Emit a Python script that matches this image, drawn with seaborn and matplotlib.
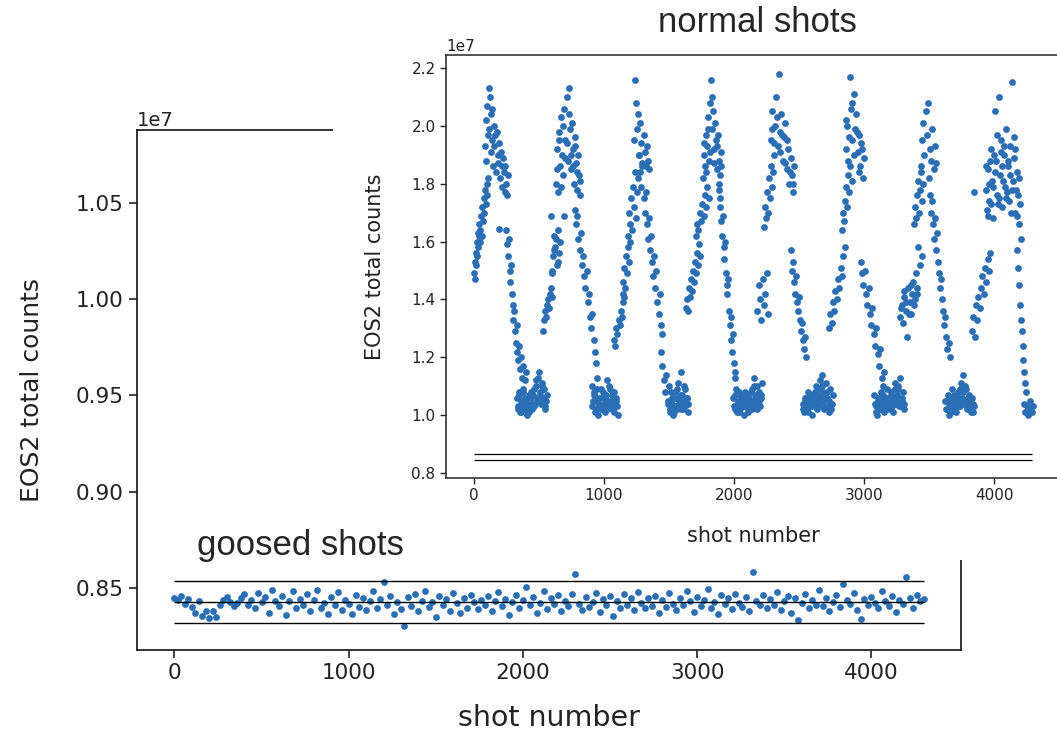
import numpy as np
import pandas as pd
import matplotlib
matplotlib.use("Agg")
import matplotlib.pyplot as plt
from matplotlib.patches import Rectangle
import seaborn as sns

# ---------------- data (counts in units of 1e7) ----------------
goosed_shots = [
    0, 20, 40, 60, 80, 100, 120, 140, 160, 180,
    200, 220, 240, 260, 280, 300, 320, 340, 360, 380,
    400, 420, 440, 460, 480, 500, 520, 540, 560, 580,
    600, 620, 640, 660, 680, 700, 720, 740, 760, 780,
    800, 820, 840, 860, 880, 900, 920, 940, 960, 980,
    1000, 1020, 1040, 1060, 1080, 1100, 1120, 1140, 1160, 1180,
    1200, 1220, 1240, 1260, 1280, 1300, 1320, 1340, 1360, 1380,
    1400, 1420, 1440, 1460, 1480, 1500, 1520, 1540, 1560, 1580,
    1600, 1620, 1640, 1660, 1680, 1700, 1720, 1740, 1760, 1780,
    1800, 1820, 1840, 1860, 1880, 1900, 1920, 1940, 1960, 1980,
    2000, 2020, 2040, 2060, 2080, 2100, 2120, 2140, 2160, 2180,
    2200, 2220, 2240, 2260, 2280, 2300, 2320, 2340, 2360, 2380,
    2400, 2420, 2440, 2460, 2480, 2500, 2520, 2540, 2560, 2580,
    2600, 2620, 2640, 2660, 2680, 2700, 2720, 2740, 2760, 2780,
    2800, 2820, 2840, 2860, 2880, 2900, 2920, 2940, 2960, 2980,
    3000, 3020, 3040, 3060, 3080, 3100, 3120, 3140, 3160, 3180,
    3200, 3220, 3240, 3260, 3280, 3300, 3320, 3340, 3360, 3380,
    3400, 3420, 3440, 3460, 3480, 3500, 3520, 3540, 3560, 3580,
    3600, 3620, 3640, 3660, 3680, 3700, 3720, 3740, 3760, 3780,
    3800, 3820, 3840, 3860, 3880, 3900, 3920, 3940, 3960, 3980,
    4000, 4020, 4040, 4060, 4080, 4100, 4120, 4140, 4160, 4180,
    4200, 4220, 4240, 4260, 4280, 4300]
goosed_counts = [
    0.8450, 0.8436, 0.8458, 0.8418, 0.8445, 0.8400, 0.8372, 0.8432, 0.8355, 0.8380,
    0.8345, 0.8378, 0.8352, 0.8412, 0.8436, 0.8455, 0.8428, 0.8404, 0.8420, 0.8447,
    0.8468, 0.8410, 0.8438, 0.8394, 0.8476, 0.8426, 0.8452, 0.8372, 0.8488, 0.8434,
    0.8404, 0.8456, 0.8358, 0.8430, 0.8482, 0.8394, 0.8444, 0.8414, 0.8468, 0.8378,
    0.8436, 0.8492, 0.8398, 0.8424, 0.8364, 0.8454, 0.8410, 0.8478, 0.8388, 0.8440,
    0.8416, 0.8366, 0.8464, 0.8402, 0.8448, 0.8384, 0.8430, 0.8486, 0.8396, 0.8442,
    0.8530, 0.8410, 0.8458, 0.8364, 0.8426, 0.8390, 0.8305, 0.8452, 0.8404, 0.8470,
    0.8378, 0.8434, 0.8486, 0.8400, 0.8428, 0.8352, 0.8456, 0.8412, 0.8444, 0.8382,
    0.8474, 0.8420, 0.8370, 0.8448, 0.8398, 0.8462, 0.8426, 0.8390, 0.8438, 0.8410,
    0.8456, 0.8380, 0.8432, 0.8478, 0.8406, 0.8444, 0.8362, 0.8428, 0.8466, 0.8396,
    0.8440, 0.8507, 0.8412, 0.8454, 0.8370, 0.8424, 0.8482, 0.8392, 0.8446, 0.8416,
    0.8464, 0.8380, 0.8434, 0.8406, 0.8470, 0.8572, 0.8418, 0.8388, 0.8452, 0.8400,
    0.8428, 0.8476, 0.8374, 0.8442, 0.8410, 0.8460, 0.8356, 0.8432, 0.8396, 0.8468,
    0.8414, 0.8446, 0.8384, 0.8478, 0.8422, 0.8394, 0.8450, 0.8406, 0.8460, 0.8372,
    0.8436, 0.8402, 0.8472, 0.8418, 0.8386, 0.8448, 0.8412, 0.8484, 0.8430, 0.8376,
    0.8454, 0.8408, 0.8440, 0.8494, 0.8398, 0.8426, 0.8364, 0.8462, 0.8416, 0.8446,
    0.8390, 0.8470, 0.8424, 0.8402, 0.8452, 0.8380, 0.8582, 0.8434, 0.8410, 0.8466,
    0.8396, 0.8442, 0.8414, 0.8480, 0.8384, 0.8432, 0.8456, 0.8368, 0.8446, 0.8332,
    0.8422, 0.8468, 0.8394, 0.8440, 0.8412, 0.8490, 0.8404, 0.8450, 0.8378, 0.8428,
    0.8462, 0.8400, 0.8520, 0.8436, 0.8418, 0.8472, 0.8386, 0.8340, 0.8444, 0.8410,
    0.8454, 0.8424, 0.8396, 0.8482, 0.8432, 0.8406, 0.8460, 0.8374, 0.8438, 0.8416,
    0.8557, 0.8448, 0.8398, 0.8466, 0.8430, 0.8444]
assert len(goosed_shots) == len(goosed_counts), (len(goosed_shots), len(goosed_counts))
goosed_lines = [0.8536, 0.8426, 0.8317]
normal_lines = [0.866, 0.846]

# normal shots, cluster by cluster
shots_01 = [2, 6, 10, 14, 18, 22, 26, 30, 34, 38, 42, 46, 50, 55, 60, 65, 70, 75, 80, 86, 92, 98, 104, 110]
counts_01 = [1.49, 1.53, 1.47, 1.56, 1.52, 1.60, 1.55, 1.63, 1.58, 1.62, 1.66, 1.60, 1.64, 1.69, 1.62, 1.72, 1.67, 1.75, 1.70, 1.78, 1.73, 1.80, 1.76, 1.82]
shots_02 = [82, 90, 96, 102, 108, 112, 118, 122, 128, 132, 138, 142, 148, 152, 158, 164, 170, 176, 182, 188, 194, 200, 206, 212, 218, 224, 230, 236, 242, 248, 255, 262]
counts_02 = [1.93, 2.02, 1.88, 2.07, 1.97, 2.13, 1.99, 2.10, 1.91, 2.04, 1.95, 2.06, 1.86, 2.00, 1.93, 1.97, 1.84, 1.98, 1.90, 1.87, 1.94, 1.82, 1.91, 1.86, 1.79, 1.89, 1.84, 1.77, 1.86, 1.80, 1.76, 1.83]
shots_03 = [195, 250, 256, 262, 268, 274, 280, 286, 292, 298, 304, 310, 316, 322, 328, 334, 340, 348, 356, 364, 372, 380, 390, 400]
counts_03 = [1.645, 1.64, 1.59, 1.55, 1.61, 1.50, 1.46, 1.52, 1.42, 1.38, 1.33, 1.36, 1.29, 1.25, 1.31, 1.22, 1.19, 1.24, 1.16, 1.20, 1.13, 1.17, 1.12, 1.15]
shots_04 = [330, 340, 350, 360, 370, 380, 390, 400, 410, 420, 430, 440, 450, 460, 470, 480, 490, 500, 510, 520, 530, 540, 550, 560,
            335, 345, 355, 365, 375, 385, 395, 405, 415, 425, 435, 445, 455, 465, 475, 485, 495, 505, 515, 525, 535, 545, 555]
counts_04 = [1.06, 1.02, 1.08, 1.01, 1.04, 1.09, 1.02, 1.05, 1.00, 1.07, 1.03, 1.06, 1.02, 1.09, 1.04, 1.12, 1.06, 1.15, 1.08, 1.11, 1.05, 1.09, 1.03, 1.07,
             1.03, 1.07, 1.01, 1.05, 1.08, 1.02, 1.06, 1.03, 1.04, 1.01, 1.08, 1.04, 1.07, 1.03, 1.10, 1.05, 1.13, 1.07, 1.04, 1.10, 1.06, 1.02, 1.05]
shots_05 = [532, 540, 548, 556, 564, 572, 580, 588, 596, 604]
counts_05 = [1.29, 1.33, 1.36, 1.34, 1.38, 1.40, 1.37, 1.42, 1.44, 1.41]
shots_06 = [595, 600, 603, 611, 615, 619, 627, 630, 635, 643, 645, 651, 660, 693]
counts_06 = [1.69, 1.49, 1.50, 1.55, 1.57, 1.62, 1.58, 1.61, 1.52, 1.64, 1.53, 1.56, 1.60, 1.69]
shots_07 = [632, 640, 648, 656, 664, 672, 680, 688, 696, 704, 712, 720, 728, 736, 744, 752, 760, 768, 776, 784, 792, 800, 808, 816,
            636, 652, 668, 684, 700, 716, 732, 748, 764, 780, 796, 812]
counts_07 = [1.80, 1.92, 1.77, 1.98, 1.86, 2.03, 1.90, 1.83, 2.06, 1.95, 2.10, 1.88, 2.13, 1.99, 1.85, 2.01, 1.92, 1.80, 1.96, 1.87, 1.78, 1.90, 1.83, 1.76,
             1.85, 1.95, 1.79, 2.00, 1.89, 1.94, 2.04, 1.90, 1.86, 1.93, 1.84, 1.81]
shots_08 = [776, 785, 794, 803, 812, 821, 830, 839, 848, 857, 866, 875, 884, 893, 902, 911, 920, 930, 940, 950]
counts_08 = [1.71, 1.66, 1.69, 1.61, 1.57, 1.63, 1.52, 1.55, 1.48, 1.44, 1.50, 1.39, 1.42, 1.34, 1.30, 1.35, 1.26, 1.22, 1.18, 1.13]
shots_09 = [905, 915, 925, 935, 945, 955, 965, 975, 985, 995, 1005, 1015, 1025, 1035, 1045, 1055, 1065, 1075, 1085, 1095, 1105,
            910, 920, 930, 940, 950, 960, 970, 980, 990, 1000, 1010, 1020, 1030, 1040, 1050, 1060, 1070, 1080, 1090, 1100]
counts_09 = [1.10, 1.05, 1.08, 1.02, 1.06, 1.00, 1.04, 1.09, 1.03, 1.06, 1.01, 1.07, 1.12, 1.04, 1.09, 1.05, 1.02, 1.08, 1.03, 1.06, 1.00,
             1.03, 1.07, 1.01, 1.05, 1.09, 1.03, 1.06, 1.02, 1.08, 1.04, 1.06, 1.02, 1.05, 1.10, 1.03, 1.07, 1.04, 1.01, 1.05, 1.03]
shots_10 = [1080, 1088, 1096, 1104, 1112, 1120, 1128, 1136, 1144, 1152]
counts_10 = [1.26, 1.24, 1.30, 1.28, 1.33, 1.31, 1.36, 1.34, 1.39, 1.41]
shots_11 = [1143, 1150, 1157, 1164, 1171, 1178, 1185, 1192, 1199]
counts_11 = [1.42, 1.46, 1.51, 1.44, 1.55, 1.49, 1.58, 1.53, 1.60]
shots_12 = [1182, 1190, 1198, 1206, 1214, 1222, 1230, 1238, 1246, 1254, 1262]
counts_12 = [1.62, 1.70, 1.66, 1.75, 1.64, 1.79, 1.72, 1.84, 1.68, 1.77, 1.82]
shots_13 = [1232, 1240, 1248, 1256, 1264, 1272, 1280, 1288, 1296, 1304, 1312, 1320, 1328, 1336, 1344]
counts_13 = [1.95, 2.16, 2.08, 1.99, 2.04, 1.90, 2.01, 1.94, 1.87, 1.97, 1.91, 1.86, 1.93, 1.88, 1.85]
shots_14 = [1272, 1280, 1288, 1296, 1304, 1312, 1320, 1328, 1336, 1344, 1352, 1360, 1368, 1376, 1384, 1392, 1400, 1410, 1420, 1430, 1440, 1450]
counts_14 = [1.90, 1.84, 1.79, 1.86, 1.75, 1.70, 1.77, 1.66, 1.61, 1.68, 1.57, 1.62, 1.53, 1.48, 1.55, 1.44, 1.50, 1.39, 1.35, 1.42, 1.31, 1.28]
shots_15 = [1440, 1450, 1460, 1470, 1480, 1490, 1500, 1510, 1520, 1530, 1540, 1550, 1560, 1570, 1580, 1590, 1600, 1610, 1620, 1630, 1640, 1650,
            1495, 1505, 1515, 1525, 1535, 1545, 1555, 1565, 1575, 1585, 1595, 1605, 1615, 1625, 1635, 1645]
counts_15 = [1.22, 1.17, 1.12, 1.08, 1.14, 1.04, 1.10, 1.01, 1.06, 1.00, 1.03, 1.08, 1.02, 1.11, 1.05, 1.15, 1.07, 1.02, 1.09, 1.04, 1.06, 1.01,
             1.05, 1.02, 1.08, 1.04, 1.01, 1.06, 1.03, 1.09, 1.04, 1.07, 1.02, 1.05, 1.10, 1.03, 1.06, 1.04]
shots_16 = [1630, 1638, 1646, 1654, 1662, 1670, 1678, 1686, 1694, 1702, 1710, 1718, 1726, 1734, 1742]
counts_16 = [1.37, 1.40, 1.36, 1.44, 1.41, 1.47, 1.43, 1.50, 1.46, 1.53, 1.49, 1.56, 1.52, 1.59, 1.55]
shots_17 = [1706, 1716, 1726, 1736, 1746, 1756, 1766, 1776, 1786, 1796, 1804]
counts_17 = [1.62, 1.66, 1.64, 1.70, 1.67, 1.73, 1.69, 1.76, 1.72, 1.79, 1.75]
shots_18 = [1758, 1766, 1774, 1782, 1790, 1798, 1806, 1814, 1822, 1830, 1838, 1846, 1854, 1862, 1870, 1878, 1886, 1894, 1902,
            1770, 1786, 1802, 1818, 1834, 1850, 1866, 1882, 1898]
counts_18 = [1.82, 1.90, 1.86, 1.97, 1.93, 2.03, 1.88, 2.08, 2.16, 1.99, 2.05, 1.92, 2.01, 1.95, 1.85, 1.97, 1.88, 1.83, 1.91,
             1.94, 1.84, 1.99, 1.91, 2.10, 1.87, 1.93, 1.80, 1.86]
shots_19 = [1884, 1890, 1896, 1902, 1908, 1914, 1920, 1926, 1932, 1938, 1944, 1950, 1956, 1962, 1968, 1974, 1980, 1986, 1992, 1998, 2004, 2010]
counts_19 = [1.78, 1.72, 1.75, 1.67, 1.62, 1.69, 1.58, 1.54, 1.60, 1.49, 1.45, 1.42, 1.47, 1.36, 1.31, 1.34, 1.26, 1.22, 1.28, 1.18, 1.15, 1.13]
shots_20 = [1995, 2005, 2015, 2025, 2035, 2045, 2055, 2065, 2075, 2085, 2095, 2105, 2115, 2125, 2135, 2145, 2155, 2165, 2175, 2185, 2195, 2205, 2215,
            2000, 2010, 2020, 2030, 2040, 2050, 2060, 2070, 2080, 2090, 2100, 2110, 2120, 2130, 2140, 2150, 2160, 2170, 2180, 2190, 2200, 2210]
counts_20 = [1.06, 1.02, 1.09, 1.04, 1.01, 1.07, 1.03, 1.05, 1.00, 1.08, 1.04, 1.02, 1.06, 1.03, 1.09, 1.05, 1.13, 1.07, 1.10, 1.04, 1.08, 1.06, 1.11,
             1.03, 1.07, 1.01, 1.05, 1.08, 1.02, 1.06, 1.04, 1.03, 1.05, 1.07, 1.01, 1.04, 1.08, 1.02, 1.10, 1.04, 1.06, 1.02, 1.05, 1.03, 1.07]
shots_21 = [2180, 2190, 2200, 2210, 2220, 2230, 2240, 2250, 2260]
counts_21 = [1.36, 1.45, 1.40, 1.33, 1.47, 1.38, 1.42, 1.49, 1.35]
shots_22 = [2230, 2238, 2246, 2254, 2262, 2270, 2278, 2286, 2294, 2302,
            2285, 2295, 2305, 2315, 2325, 2335, 2345, 2355, 2365, 2375, 2385, 2395, 2405, 2415, 2425, 2435, 2445, 2455, 2465,
            2290, 2310, 2330, 2350, 2370, 2390, 2410, 2430, 2450]
counts_22 = [1.65, 1.72, 1.68, 1.77, 1.70, 1.82, 1.75, 1.86, 1.79, 1.84,
             1.95, 2.05, 1.90, 2.00, 2.10, 1.93, 2.18, 1.98, 2.04, 1.88, 1.96, 2.01, 1.85, 1.92, 1.80, 1.89, 1.83, 1.77, 1.86,
             1.99, 1.94, 2.03, 1.91, 1.97, 1.87, 1.95, 1.84, 1.80]
shots_23 = [2436, 2444, 2452, 2460, 2468, 2476, 2484, 2492, 2500, 2508, 2516, 2524, 2532, 2540, 2548, 2556]
counts_23 = [1.57, 1.50, 1.53, 1.46, 1.42, 1.48, 1.39, 1.36, 1.41, 1.33, 1.29, 1.32, 1.26, 1.23, 1.27, 1.20]
shots_24 = [2528, 2538, 2548, 2558, 2568, 2578, 2588, 2598, 2608, 2618, 2628, 2638, 2648, 2658, 2668, 2678, 2688, 2698, 2708, 2718, 2728, 2738, 2748, 2758,
            2533, 2543, 2553, 2563, 2573, 2583, 2593, 2603, 2613, 2623, 2633, 2643, 2653, 2663, 2673, 2683, 2693, 2703, 2713, 2723, 2733, 2743, 2753]
counts_24 = [1.04, 1.01, 1.06, 1.02, 1.08, 1.03, 1.05, 1.00, 1.07, 1.04, 1.10, 1.02, 1.06, 1.12, 1.05, 1.14, 1.08, 1.03, 1.11, 1.06, 1.01, 1.09, 1.04, 1.07,
             1.02, 1.05, 1.03, 1.06, 1.01, 1.04, 1.07, 1.03, 1.05, 1.08, 1.04, 1.09, 1.03, 1.07, 1.10, 1.05, 1.02, 1.06, 1.08, 1.03, 1.05, 1.02, 1.04]
shots_25 = [2730, 2740, 2750, 2760, 2770, 2780, 2790, 2800, 2810, 2820, 2830, 2840, 2850]
counts_25 = [1.30, 1.35, 1.32, 1.39, 1.36, 1.43, 1.40, 1.47, 1.44, 1.51, 1.48, 1.55, 1.58]
shots_26 = [2832, 2840, 2848, 2856, 2864, 2872, 2880, 2888, 2896, 2904,
            2860, 2870, 2880, 2890, 2900, 2910, 2920, 2930, 2940, 2950, 2960, 2970, 2980, 2990, 3000,
            2865, 2885, 2905, 2925, 2945, 2965, 2985]
counts_26 = [1.64, 1.70, 1.67, 1.74, 1.79, 1.72, 1.83, 1.77, 1.86, 1.81,
             1.92, 2.00, 1.88, 2.17, 2.06, 1.95, 2.11, 1.99, 2.04, 1.91, 1.97, 1.86, 1.94, 1.82, 1.89,
             2.02, 1.96, 2.08, 1.90, 1.98, 1.84, 1.92]
shots_27 = [2975, 2985, 2995, 3005, 3015, 3025, 3035, 3045, 3055, 3065, 3075, 3085, 3095, 3105, 3115, 3125, 3135, 3145, 3155]
counts_27 = [1.53, 1.49, 1.45, 1.50, 1.42, 1.38, 1.44, 1.35, 1.31, 1.37, 1.28, 1.24, 1.30, 1.21, 1.17, 1.23, 1.13, 1.10, 1.15]
shots_28 = [3080, 3090, 3100, 3110, 3120, 3130, 3140, 3150, 3160, 3170, 3180, 3190, 3200, 3210, 3220, 3230, 3240, 3250, 3260, 3270, 3280, 3290, 3300, 3310,
            3085, 3095, 3105, 3115, 3125, 3135, 3145, 3155, 3165, 3175, 3185, 3195, 3205, 3215, 3225, 3235, 3245, 3255, 3265, 3275, 3285, 3295, 3305]
counts_28 = [1.07, 1.03, 1.00, 1.05, 1.02, 1.08, 1.04, 1.01, 1.06, 1.03, 1.09, 1.02, 1.05, 1.07, 1.01, 1.04, 1.11, 1.06, 1.09, 1.03, 1.13, 1.05, 1.08, 1.02,
             1.04, 1.01, 1.06, 1.03, 1.05, 1.02, 1.07, 1.04, 1.02, 1.06, 1.03, 1.05, 1.08, 1.03, 1.06, 1.09, 1.04, 1.07, 1.10, 1.05, 1.03, 1.06, 1.04]
shots_29 = [3280, 3290, 3300, 3310, 3320, 3330, 3340, 3350, 3360, 3370, 3380, 3390, 3400, 3410,
            3285, 3305, 3325, 3345, 3365, 3385, 3405]
counts_29 = [1.34, 1.38, 1.32, 1.41, 1.36, 1.27, 1.44, 1.39, 1.35, 1.42, 1.46, 1.40, 1.49, 1.44,
             1.37, 1.43, 1.39, 1.35, 1.45, 1.38, 1.42]
shots_30 = [3415, 3430, 3445,
            3382, 3390, 3398, 3406, 3414, 3422, 3430, 3438, 3446, 3454,
            3435, 3445, 3455, 3465, 3475, 3485, 3495, 3505, 3515, 3525, 3535, 3545, 3555]
counts_30 = [1.58, 1.52, 1.55,
             1.66, 1.72, 1.68, 1.76, 1.81, 1.70, 1.78, 1.84, 1.74, 1.80,
             1.86, 1.95, 2.01, 1.90, 2.05, 1.97, 2.08, 1.92, 1.88, 1.99, 1.85, 1.93, 1.87]
shots_31 = [3498, 3506, 3514, 3522, 3530, 3538, 3546, 3554, 3562, 3570, 3578, 3586, 3594, 3602, 3610, 3618, 3626, 3634, 3642, 3650, 3658]
counts_31 = [1.82, 1.76, 1.70, 1.74, 1.66, 1.61, 1.68, 1.57, 1.63, 1.53, 1.49, 1.44, 1.47, 1.40, 1.36, 1.31, 1.34, 1.27, 1.23, 1.25, 1.20]
shots_32 = [3625, 3635, 3645, 3655, 3665, 3675, 3685, 3695, 3705, 3715, 3725, 3735, 3745, 3755, 3765, 3775, 3785, 3795, 3805, 3815, 3825, 3835, 3845,
            3630, 3640, 3650, 3660, 3670, 3680, 3690, 3700, 3710, 3720, 3730, 3740, 3750, 3760, 3770, 3780, 3790, 3800, 3810, 3820, 3830, 3840]
counts_32 = [1.05, 1.02, 1.07, 1.00, 1.04, 1.09, 1.03, 1.06, 1.01, 1.05, 1.08, 1.03, 1.11, 1.06, 1.14, 1.04, 1.09, 1.02, 1.07, 1.05, 1.01, 1.04, 1.03,
             1.02, 1.05, 1.03, 1.06, 1.01, 1.04, 1.07, 1.02, 1.05, 1.03, 1.06, 1.09, 1.04, 1.08, 1.05, 1.10, 1.03, 1.06, 1.02, 1.04, 1.06, 1.01]
shots_33 = [3830, 3840, 3850, 3860, 3870, 3880, 3890, 3900, 3910, 3920, 3930, 3940, 3950, 3960, 3970]
counts_33 = [1.29, 1.34, 1.27, 1.38, 1.33, 1.41, 1.37, 1.44, 1.48, 1.42, 1.51, 1.46, 1.54, 1.50, 1.56]
shots_34 = [3935, 3945, 3955, 3965, 3975, 3985, 3995, 4005, 4015, 4025, 4035, 4045, 4055, 4065, 4075, 4085, 4095, 4105, 4115, 4125, 4135, 4145, 4155, 4165, 4175, 4185, 4195, 4205,
            3847, 3940, 3960, 3980, 4000, 4020, 4040, 4060, 4080, 4100, 4120, 4140, 4160, 4180, 4200,
            3950, 3970, 3990, 4010, 4030, 4050, 4070, 4090, 4110, 4130, 4150, 4170, 4190]
counts_34 = [1.78, 1.71, 1.85, 1.74, 1.92, 1.81, 1.68, 2.05, 1.88, 1.76, 2.10, 1.83, 1.95, 1.72, 1.90, 1.79, 1.99, 1.86, 1.74, 1.93, 2.15, 1.81, 1.89, 1.70, 1.84, 1.76, 1.66, 1.61,
             1.77, 1.86, 1.80, 1.73, 1.90, 1.97, 1.75, 1.86, 1.93, 1.77, 1.83, 1.78, 1.92, 1.69, 1.73,
             1.69, 1.88, 1.79, 1.84, 1.73, 1.91, 1.81, 1.75, 1.88, 1.70, 1.96, 1.78, 1.82]
shots_35 = [4176, 4184, 4192, 4200, 4208, 4214, 4220, 4226, 4232, 4238, 4244,
            4230, 4240, 4250, 4260, 4270, 4280, 4290, 4300]
counts_35 = [1.57, 1.51, 1.45, 1.38, 1.33, 1.29, 1.24, 1.19, 1.15, 1.11, 1.08,
             1.04, 1.01, 1.03, 1.00, 1.02, 1.05, 1.01, 1.03]

normal_shot_lists = [shots_01, shots_02, shots_03, shots_04, shots_05, shots_06, shots_07, shots_08, shots_09, shots_10,
                     shots_11, shots_12, shots_13, shots_14, shots_15, shots_16, shots_17, shots_18, shots_19, shots_20,
                     shots_21, shots_22, shots_23, shots_24, shots_25, shots_26, shots_27, shots_28, shots_29, shots_30,
                     shots_31, shots_32, shots_33, shots_34, shots_35]
normal_count_lists = [counts_01, counts_02, counts_03, counts_04, counts_05, counts_06, counts_07, counts_08, counts_09, counts_10,
                      counts_11, counts_12, counts_13, counts_14, counts_15, counts_16, counts_17, counts_18, counts_19, counts_20,
                      counts_21, counts_22, counts_23, counts_24, counts_25, counts_26, counts_27, counts_28, counts_29, counts_30,
                      counts_31, counts_32, counts_33, counts_34, counts_35]
for i, (a, b) in enumerate(zip(normal_shot_lists, normal_count_lists)):
    assert len(a) == len(b), (i + 1, len(a), len(b))

SCALE = 1e7
normal_df = pd.DataFrame({
    "shot": np.concatenate(normal_shot_lists),
    "counts": np.concatenate(normal_count_lists) * SCALE,
})
goosed_df = pd.DataFrame({"shot": goosed_shots, "counts": np.array(goosed_counts) * SCALE})

# ---------------- styling ----------------
sns.set_style("ticks")
plt.rcParams['font.family'] = ['DejaVu Sans']
BLUE = "#2a6fb5"
W, H = 1057, 731


def rect(l, t, r, b):
    return [l / W, 1 - b / H, (r - l) / W, (b - t) / H]


fig = plt.figure(figsize=(W / 100, H / 100), dpi=100)

# main (goosed) axes
ax = fig.add_axes(rect(137, 130, 961, 650))
sns.scatterplot(data=goosed_df, x="shot", y="counts", ax=ax, s=24, color=BLUE,
                linewidth=0, legend=False, zorder=2)
ax.hlines([v * SCALE for v in goosed_lines], 0, 4300, colors="black", lw=1.0, zorder=3)
ax.set_xlim(-215, 4515)
ax.set_ylim(0.8178 * SCALE, 1.0879 * SCALE)
ax.set_yticks([0.85e7, 0.90e7, 0.95e7, 1.00e7, 1.05e7])
ax.set_xticks([0, 1000, 2000, 3000, 4000])
ax.tick_params(labelsize=15.5, length=6, width=1.2, colors="#222222")
for sp in ax.spines.values():
    sp.set_visible(True)
    sp.set_linewidth(1.3)
    sp.set_color("#222222")
ax.yaxis.get_offset_text().set_fontsize(14)
ax.set_xlabel("shot number", fontsize=20.5, labelpad=15, color="#222222")
ax.set_ylabel("EOS2 total counts", fontsize=18, labelpad=23, color="#222222")

# white backdrop of the inset picture
fig.add_artist(Rectangle((333 / W, 1 - 560 / H), 1, 1, transform=fig.transFigure,
                         facecolor="white", edgecolor="none", zorder=1))

# inset (normal) axes
ax2 = fig.add_axes(rect(446, 55, 1061, 478))
ax2.set_zorder(2)
sns.scatterplot(data=normal_df, x="shot", y="counts", ax=ax2, s=24, color=BLUE,
                linewidth=0, legend=False, zorder=2)
ax2.hlines([v * SCALE for v in normal_lines], 0, 4290, colors="black", lw=0.9, zorder=3)
ax2.set_xlim(-215, 4515)
ax2.set_ylim(0.7827 * SCALE, 2.245 * SCALE)
ax2.set_yticks([0.8e7, 1.0e7, 1.2e7, 1.4e7, 1.6e7, 1.8e7, 2.0e7, 2.2e7])
ax2.set_xticks([0, 1000, 2000, 3000, 4000])
ax2.tick_params(labelsize=11, length=4, width=1.0, colors="#222222")
for sp in ax2.spines.values():
    sp.set_visible(True)
    sp.set_linewidth(1.1)
    sp.set_color("#222222")
ax2.yaxis.get_offset_text().set_fontsize(11)
ax2.set_xlabel("shot number", fontsize=15, labelpad=16, color="#222222")
ax2.set_ylabel("EOS2 total counts", fontsize=15, labelpad=19, color="#222222")

fig.text(757 / W, 1 - 22 / H, "normal shots", ha="center", va="center",
         fontsize=25, family=["Liberation Sans", "DejaVu Sans"], zorder=5)
fig.text(300 / W, 1 - 546 / H, "goosed shots", ha="center", va="center",
         fontsize=25, family=["Liberation Sans", "DejaVu Sans"], zorder=5)

fig.savefig("out.png", dpi=100, facecolor="white")
